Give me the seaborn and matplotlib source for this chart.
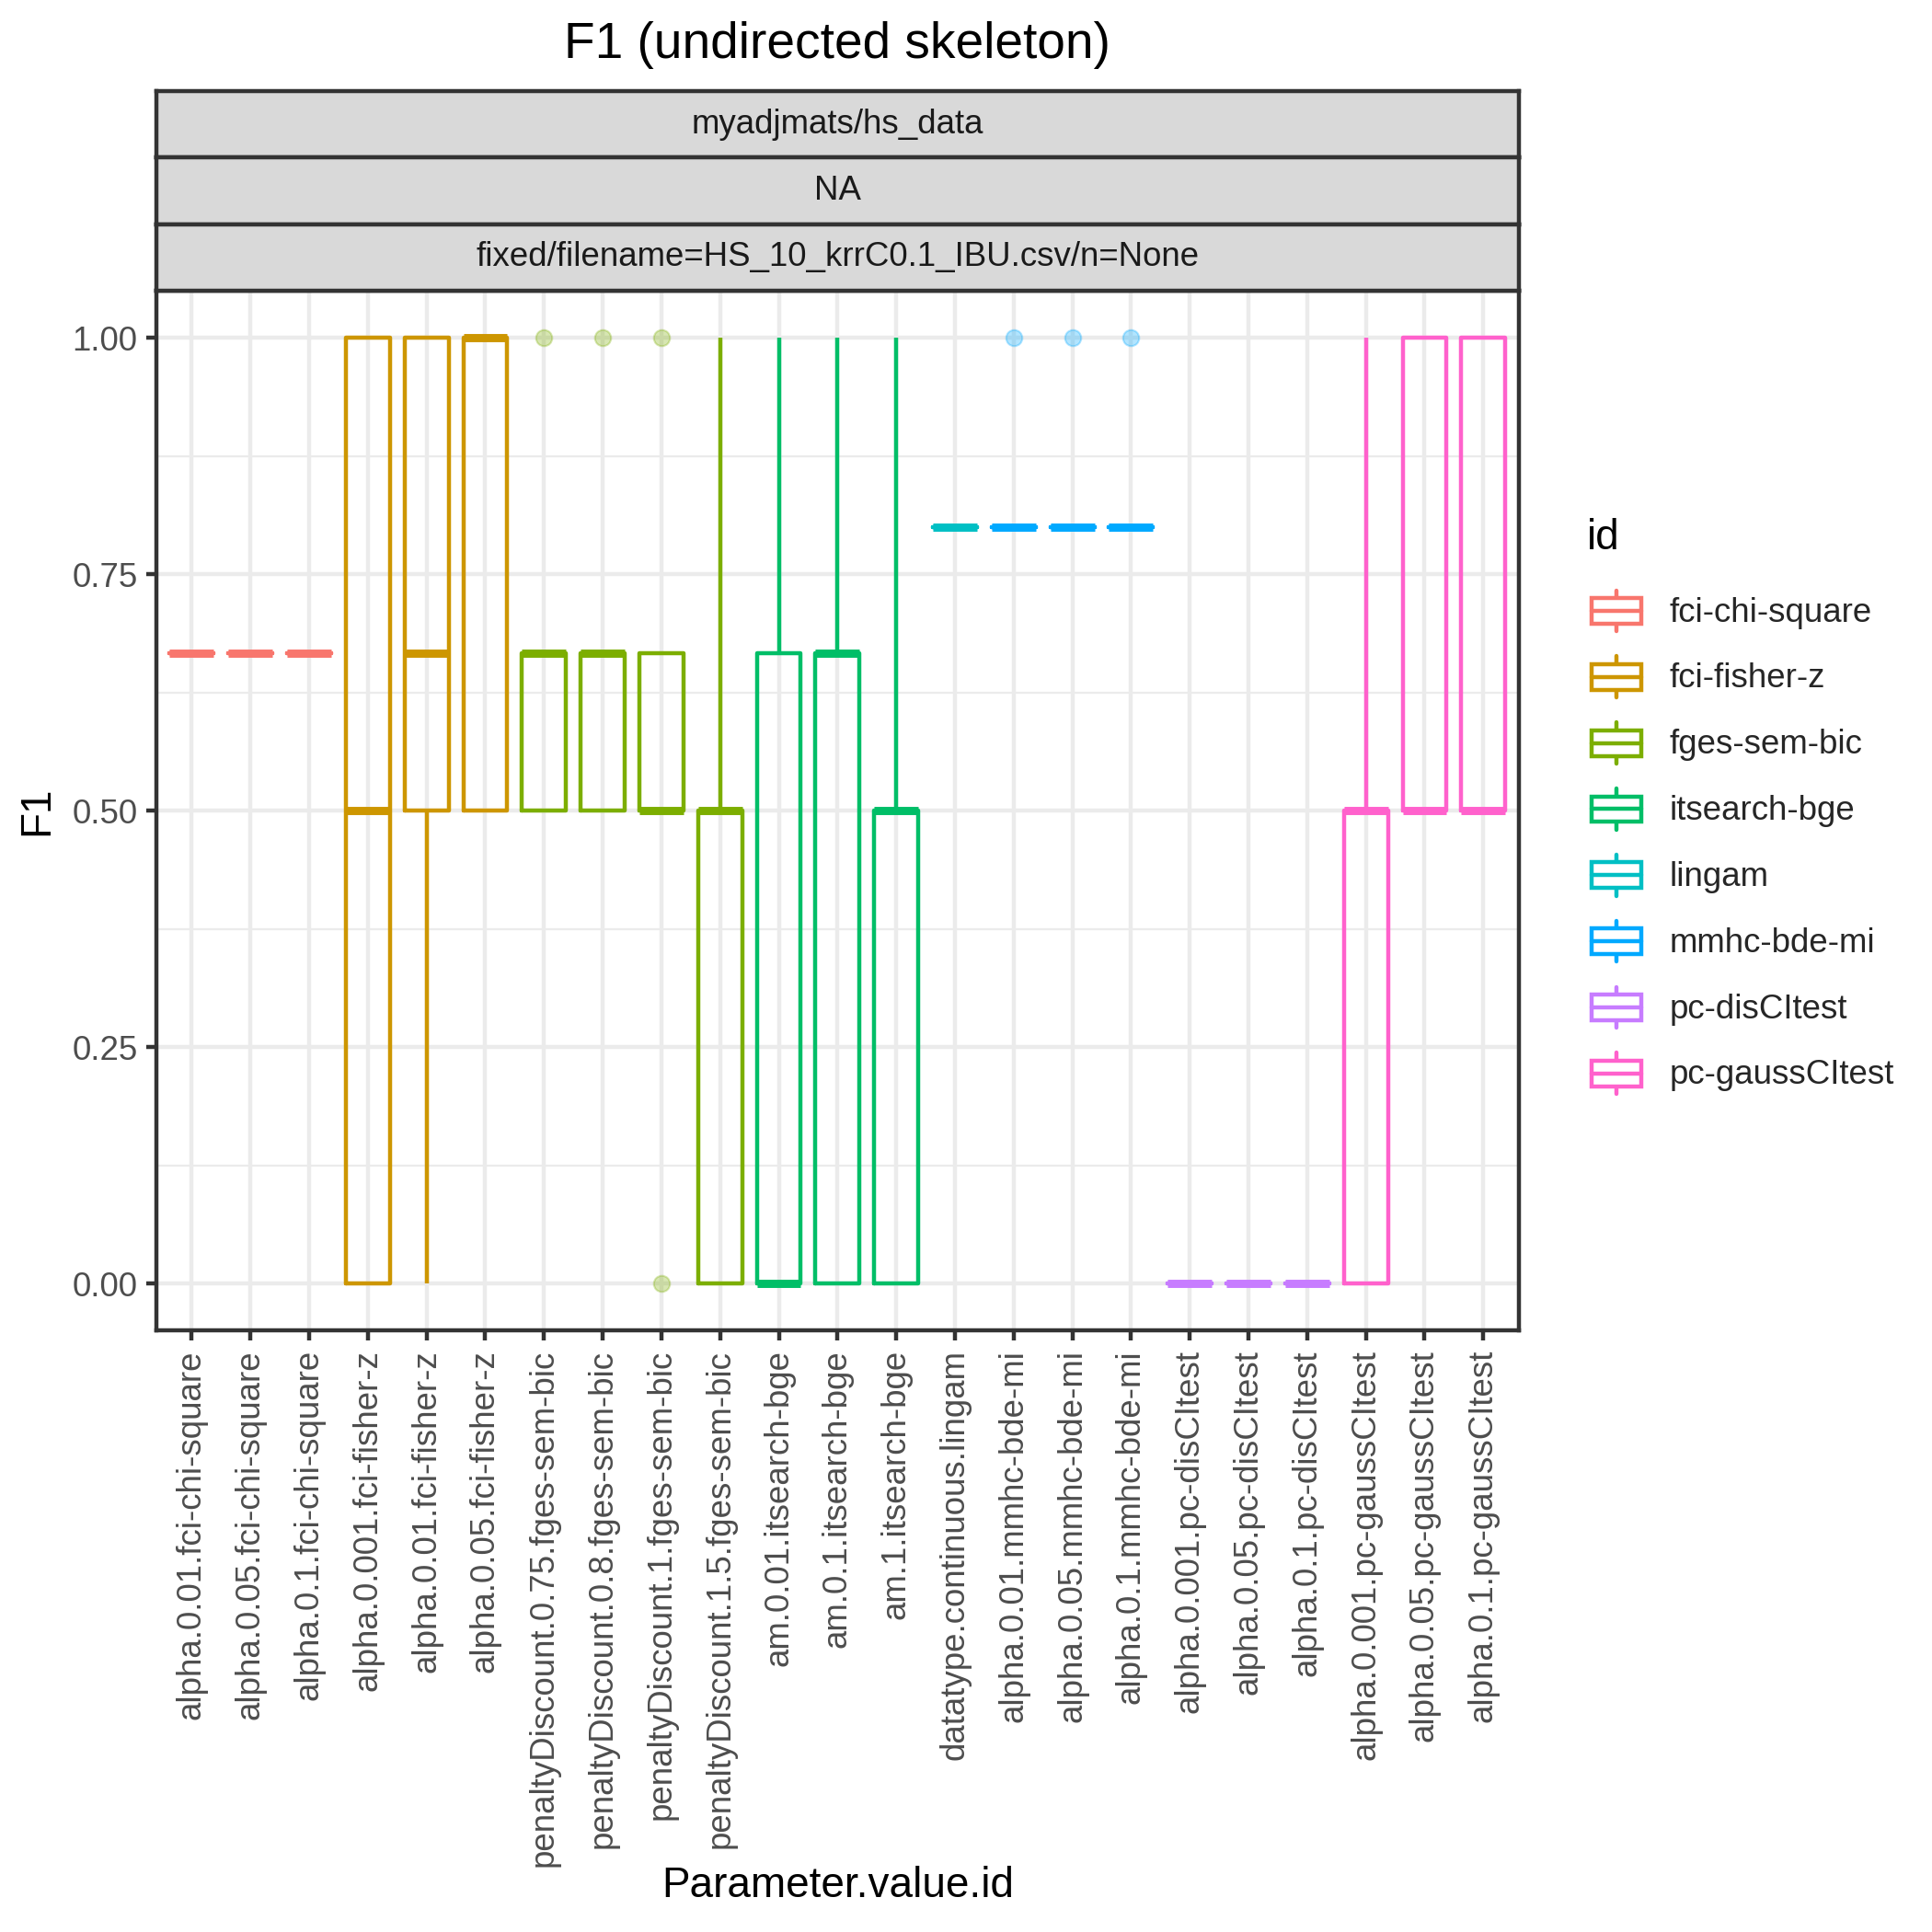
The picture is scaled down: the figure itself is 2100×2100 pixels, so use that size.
import numpy as np
import pandas as pd
import matplotlib
matplotlib.use("Agg")
import matplotlib.pyplot as plt
import seaborn as sns
from matplotlib.legend_handler import HandlerBase
from matplotlib.patches import Rectangle
from matplotlib.lines import Line2D
from matplotlib.ticker import FixedLocator

# ---------------- data ----------------
categories = [
    "alpha.0.01.fci-chi-square", "alpha.0.05.fci-chi-square", "alpha.0.1.fci-chi-square",
    "alpha.0.001.fci-fisher-z", "alpha.0.01.fci-fisher-z", "alpha.0.05.fci-fisher-z",
    "penaltyDiscount.0.75.fges-sem-bic", "penaltyDiscount.0.8.fges-sem-bic",
    "penaltyDiscount.1.fges-sem-bic", "penaltyDiscount.1.5.fges-sem-bic",
    "am.0.01.itsearch-bge", "am.0.1.itsearch-bge", "am.1.itsearch-bge",
    "datatype.continuous.lingam",
    "alpha.0.01.mmhc-bde-mi", "alpha.0.05.mmhc-bde-mi", "alpha.0.1.mmhc-bde-mi",
    "alpha.0.001.pc-disCItest", "alpha.0.05.pc-disCItest", "alpha.0.1.pc-disCItest",
    "alpha.0.001.pc-gaussCItest", "alpha.0.05.pc-gaussCItest", "alpha.0.1.pc-gaussCItest",
]
category_ids = [
    "fci-chi-square", "fci-chi-square", "fci-chi-square",
    "fci-fisher-z", "fci-fisher-z", "fci-fisher-z",
    "fges-sem-bic", "fges-sem-bic", "fges-sem-bic", "fges-sem-bic",
    "itsearch-bge", "itsearch-bge", "itsearch-bge",
    "lingam",
    "mmhc-bde-mi", "mmhc-bde-mi", "mmhc-bde-mi",
    "pc-disCItest", "pc-disCItest", "pc-disCItest",
    "pc-gaussCItest", "pc-gaussCItest", "pc-gaussCItest",
]
f1_samples = [
    [0.667, 0.667, 0.667, 0.667, 0.667],
    [0.667, 0.667, 0.667, 0.667, 0.667],
    [0.667, 0.667, 0.667, 0.667, 0.667],
    [0.0, 0.0, 0.5, 1.0, 1.0],
    [0.0, 0.5, 0.667, 1.0, 1.0],
    [0.5, 0.5, 1.0, 1.0, 1.0],
    [0.5, 0.5, 0.667, 0.667, 1.0],
    [0.5, 0.5, 0.667, 0.667, 1.0],
    [0.0, 0.5, 0.5, 0.667, 1.0],
    [0.0, 0.0, 0.5, 0.5, 1.0],
    [0.0, 0.0, 0.0, 0.667, 1.0],
    [0.0, 0.0, 0.667, 0.667, 1.0],
    [0.0, 0.0, 0.5, 0.5, 1.0],
    [0.8, 0.8, 0.8, 0.8, 0.8],
    [0.8, 0.8, 0.8, 0.8, 1.0],
    [0.8, 0.8, 0.8, 0.8, 1.0],
    [0.8, 0.8, 0.8, 0.8, 1.0],
    [0.0, 0.0, 0.0, 0.0, 0.0],
    [0.0, 0.0, 0.0, 0.0, 0.0],
    [0.0, 0.0, 0.0, 0.0, 0.0],
    [0.0, 0.0, 0.5, 0.5, 1.0],
    [0.5, 0.5, 0.5, 1.0, 1.0],
    [0.5, 0.5, 0.5, 1.0, 1.0],
]
id_levels = ["fci-chi-square", "fci-fisher-z", "fges-sem-bic", "itsearch-bge",
             "lingam", "mmhc-bde-mi", "pc-disCItest", "pc-gaussCItest"]
id_colors = ["#F8766D", "#CD9600", "#7CAE00", "#00BE67",
             "#00BFC4", "#00A9FF", "#C77CFF", "#FF61CC"]
strip_labels = ["myadjmats/hs_data", "NA", "fixed/filename=HS_10_krrC0.1_IBU.csv/n=None"]
y_ticks = [0.0, 0.25, 0.5, 0.75, 1.0]
y_tick_labels = ["0.00", "0.25", "0.50", "0.75", "1.00"]
y_minor = [0.125, 0.375, 0.625, 0.875]

rows = []
for cat, cid, vals in zip(categories, category_ids, f1_samples):
    for v in vals:
        rows.append((cat, cid, v))
df = pd.DataFrame(rows, columns=["Parameter.value.id", "id", "F1"])

# ---------------- style ----------------
sns.set_theme(style="white")
plt.rcParams['font.family'] = ['Liberation Sans', 'DejaVu Sans']

LW = 1.07
GREY20 = "#333333"
GREY30 = "#4D4D4D"
GRID = "#EBEBEB"

fig = plt.figure(figsize=(7, 7), dpi=300)
fig.patch.set_facecolor("white")

L, R = 0.081, 0.786
B, T = 0.3112, 0.8495
ax = fig.add_axes([L, B, R - L, T - B])
ax.set_facecolor("white")
ax.set_axisbelow(True)

palette = dict(zip(id_levels, id_colors))
sns.boxplot(data=df, x="Parameter.value.id", y="F1", hue="id",
            order=categories, hue_order=id_levels, palette=palette,
            dodge=False, fill=False, width=0.75, linewidth=LW,
            showcaps=False, whis=1.5,
            medianprops={"linewidth": 2 * LW},
            flierprops={"marker": "o", "markersize": 4.2, "markeredgewidth": 0.5},
            legend=False, ax=ax)

for ln in ax.lines:
    if ln.get_marker() == "o":
        ln.set_markerfacecolor(ln.get_markeredgecolor())
        ln.set_alpha(0.3)
        ln.set_zorder(3)

ax.set_xlim(-0.6, len(categories) - 0.4)
ax.set_ylim(-0.05, 1.05)
ax.set_yticks(y_ticks)
ax.set_yticklabels(y_tick_labels)
ax.yaxis.set_minor_locator(FixedLocator(y_minor))
ax.set_xticks(range(len(categories)))
ax.set_xticklabels(categories, rotation=90, ha="center", va="top")

ax.grid(True, which="major", axis="both", color=GRID, linewidth=LW)
ax.grid(True, which="minor", axis="y", color=GRID, linewidth=LW / 2)

ax.tick_params(axis="both", which="major", direction="out", length=2.75, width=LW,
               color=GREY20, labelsize=8.8, labelcolor=GREY30, pad=2.2,
               bottom=True, left=True)
ax.tick_params(axis="both", which="minor", length=0)
for sp in ax.spines.values():
    sp.set_color(GREY20)
    sp.set_linewidth(LW)
    sp.set_visible(True)
ax.set_xlabel("")
ax.set_ylabel("")

# facet strips
strip_top = 0.9528
sh = (strip_top - T) / 3
for i, lab in enumerate(strip_labels):
    sax = fig.add_axes([L, strip_top - (i + 1) * sh, R - L, sh])
    sax.set_facecolor("#D9D9D9")
    sax.set_xticks([])
    sax.set_yticks([])
    for sp in sax.spines.values():
        sp.set_color(GREY20)
        sp.set_linewidth(LW)
    sax.text(0.5, 0.5, lab, ha="center", va="center", fontsize=8.8,
             color="#1A1A1A", transform=sax.transAxes)

# titles
fig.text((L + R) / 2, 0.9765, "F1 (undirected skeleton)", ha="center", va="center",
         fontsize=13.2, color="black")
fig.text((L + R) / 2, 0.024, "Parameter.value.id", ha="center", va="center",
         fontsize=11, color="black")
fig.text(0.019, (B + T) / 2, "F1", ha="center", va="center", rotation=90,
         fontsize=11, color="black")


# legend with boxplot key glyphs
class BoxKeyHandler(HandlerBase):
    def create_artists(self, legend, orig_handle, xdescent, ydescent, width, height,
                       fontsize, trans):
        color = orig_handle.get_color()
        x0, y0 = -xdescent, -ydescent
        cx = x0 + width / 2
        bw, bh = width * 0.75, height * 0.5
        rect = Rectangle((cx - bw / 2, y0 + height * 0.25), bw, bh, facecolor="white",
                         edgecolor=color, linewidth=LW, transform=trans)
        med = Line2D([cx - bw / 2, cx + bw / 2], [y0 + height / 2] * 2, color=color,
                     linewidth=LW, transform=trans)
        w1 = Line2D([cx, cx], [y0 + height * 0.1, y0 + height * 0.25], color=color,
                    linewidth=LW, transform=trans)
        w2 = Line2D([cx, cx], [y0 + height * 0.75, y0 + height * 0.9], color=color,
                    linewidth=LW, transform=trans)
        return [w1, w2, rect, med]


leg_left = 0.8215
fig.text(leg_left, 1 - 437 / 1568, "id", ha="left", va="center", fontsize=11,
         color="black")
handles = [Line2D([], [], color=c) for c in id_colors]
leg = fig.legend(handles, id_levels, loc="upper left",
                 bbox_to_anchor=(leg_left - 0.002, 0.6837 + 0.0134), frameon=False,
                 fontsize=8.8, handlelength=1.96, handleheight=1.96,
                 labelspacing=0.44, handletextpad=0.6, borderaxespad=0, borderpad=0,
                 handler_map={Line2D: BoxKeyHandler()})

fig.savefig("out.png", dpi=300, facecolor="white")
